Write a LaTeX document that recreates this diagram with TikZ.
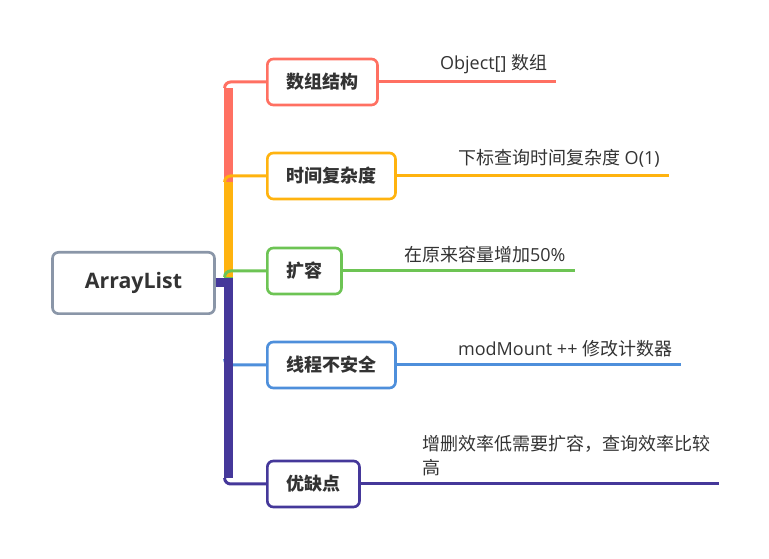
\documentclass[tikz,border=0pt]{standalone}
\usepackage{fontspec}
\setmainfont{Open Sans}
\newfontfamily\cjk{Noto Sans CJK SC}
\usetikzlibrary{positioning}
\definecolor{cText}{HTML}{333333}
\definecolor{cGray}{HTML}{8A96A8}
\definecolor{cRed}{HTML}{FF7062}
\definecolor{cOrange}{HTML}{FFB30F}
\definecolor{cGreen}{HTML}{6DC454}
\definecolor{cBlue}{HTML}{4E8FDB}
\definecolor{cPurple}{HTML}{45389A}
\begin{document}
\begin{tikzpicture}
[x=0.75pt,y=-0.75pt,
  rootDecorate/.style={shape=rectangle,draw=cGray,line width=2pt,rounded corners=4.5pt,
    minimum width=121.5pt,minimum height=46pt,text=cText,
    font=\bfseries\fontsize{16pt}{19pt}\selectfont},%
  branchDecorate/.style={shape=rectangle,draw=#1,line width=2pt,rounded corners=4.5pt,
    minimum height=34.5pt,inner xsep=14.3pt,text=cText,anchor=west,
    font=\cjk\bfseries\fontsize{13.5pt}{18pt}\selectfont},%
  leafDecorate/.style={inner xsep=6.75pt,inner ysep=0pt,align=left,text=cText,
    font=\fontsize{13.5pt}{18pt}\selectfont},%
  trunkDecorate/.style={draw=#1,line width=6.75pt},%
  twigDecorate/.style={draw=#1,line width=2.25pt,rounded corners=4.5pt}]
\useasboundingbox (0,0) rectangle (769,559);
%% root node
\node (root) at (133.5,283) [rootDecorate] {ArrayList};
\coordinate (hub) at (228,283);
%% branches, leaves and lines
\foreach \nodename/\y/\colour/\branchtext/\leaftext in {
  array/82/cRed/数组结构/{Object[] {\cjk 数组}},
  time/176/cOrange/时间复杂度/{{\cjk 下标查询时间复杂度} O(1)},
  grow/271/cGreen/扩容/{{\cjk 在原来容量增加}50\%},
  thread/365/cBlue/线程不安全/{modMount ++ {\cjk 修改计数器}},
  trade/484/cPurple/优缺点/{{\cjk 增删效率低需要扩容，查询效率比较}\\{\cjk 高}}}
{
  \pgfmathsetmacro\tip{\y<283 ? \y+6 : \y-6}
  \node (\nodename) at (266,\y) [branchDecorate=\colour] {\branchtext};
  \node (leaf\nodename) [leafDecorate, above right=6pt and 39pt of \nodename.east] {\leaftext};
  \draw [trunkDecorate=\colour] (root.east) -- (hub) -- (228,\tip);
  \draw [twigDecorate=\colour] (224.6,\tip) |- (\nodename.west);
  \draw [twigDecorate=\colour] (\nodename.east) -- (\nodename.east -| leaf\nodename.east);
}
\end{tikzpicture}
\end{document}
